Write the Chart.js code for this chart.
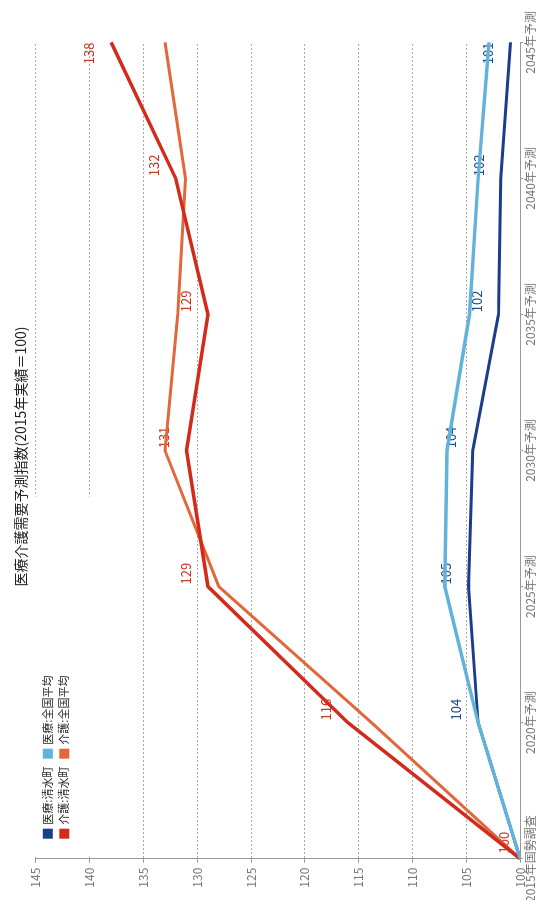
<!DOCTYPE html>
<html lang="ja">
<head>
<meta charset="utf-8">
<title>医療介護需要予測指数</title>
<script src="https://cdn.jsdelivr.net/npm/chart.js@4.4.1/dist/chart.umd.min.js"></script>
<style>
html, body { margin: 0; padding: 0; background: #fff; }
body { width: 541px; height: 900px; overflow: hidden; position: relative; }
/* the printed chart is turned a quarter turn to the left; the first year label runs off the page */
#frame { position: absolute; left: 0; top: 0; width: 891px; height: 541px;
	transform-origin: 0 0; transform: translate(0, 902px) rotate(-90deg); }
</style>
</head>
<body>
<div id="frame"><canvas id="chart" width="891" height="541"></canvas></div>
<script>
"use strict"

const years = ["2015年国勢調査", "2020年予測", "2025年予測", "2030年予測", "2035年予測", "2040年予測", "2045年予測"]
const iryoTown = [100, 103.9, 104.8, 104.4, 102.0, 101.8, 100.9]
const iryoNation = [100, 103.9, 107.0, 106.8, 104.7, 103.9, 102.9]
const kaigoTown = [100, 116, 129, 131, 129, 132, 138]
const kaigoNation = [100, 113.8, 128, 133, 131.8, 131.1, 133]
const seriesNames = ["医療:清水町", "医療:全国平均", "介護:清水町", "介護:全国平均"]
const yMin = 100
const yMax = 145
const yStep = 5

const navy = "#1b3d8c"
const sky = "#62b2db"
const red = "#d42a1c"
const orange = "#e2683c"
const family = "'Liberation Sans Narrow', 'Noto Sans CJK JP', sans-serif"

// town values written beside each point (lines go over them)
const pointLabels = {
	id: "pointLabels",
	beforeDatasetsDraw(chart) {
		const ctx = chart.ctx
		ctx.save()
		ctx.font = "13px " + family
		ctx.textAlign = "center"
		ctx.textBaseline = "middle"
		;[[0, "#1d4a8a", 1], [2, "#c8331f", 0]].forEach(([di, color, from]) => {
			const meta = chart.getDatasetMeta(di)
			const values = chart.data.datasets[di].data
			ctx.fillStyle = color
			meta.data.forEach((pt, i) => {
				if (i < from) return
				let dx = 13
				let dy = -22
				if (i === 0) { dx = 16; dy = -16 }
				if (i === values.length - 1) dx = -11
				ctx.fillText(String(Math.round(values[i])), pt.x + dx, pt.y + dy)
			})
		})
		ctx.restore()
	},
}

// legend in two rows, on a white patch over the top grid lines
const legendBox = {
	id: "legendBox",
	beforeDatasetsDraw(chart) {
		const { ctx, chartArea } = chart
		ctx.save()
		ctx.fillStyle = "#fff"
		ctx.fillRect(chartArea.left + 2, chartArea.top - 3, 360, 58)
		ctx.font = "11px " + family
		ctx.textBaseline = "middle"
		chart.data.datasets.forEach((ds, i) => {
			const col = i % 2
			const row = Math.floor(i / 2)
			const x = chartArea.left + 20 + col * 80
			const y = chartArea.top + 12 + row * 16.5
			ctx.fillStyle = ds.borderColor
			ctx.fillRect(x, y - 5, 10, 10)
			ctx.fillStyle = "#222"
			ctx.fillText(ds.label, x + 14, y)
		})
		ctx.restore()
	},
}

const chart = new Chart(document.getElementById("chart"), {
	type: "line",
	data: {
		labels: years,
		datasets: [
			{ label: seriesNames[0], data: iryoTown, borderColor: navy, backgroundColor: navy, borderWidth: 3, order: 2 },
			{ label: seriesNames[1], data: iryoNation, borderColor: sky, backgroundColor: sky, borderWidth: 3.5, order: 1 },
			{ label: seriesNames[2], data: kaigoTown, borderColor: red, backgroundColor: red, borderWidth: 3.5, order: 3 },
			{ label: seriesNames[3], data: kaigoNation, borderColor: orange, backgroundColor: orange, borderWidth: 3, order: 4 },
		],
	},
	options: {
		responsive: false,
		animation: false,
		elements: {
			point: { radius: 0 },
			line: { tension: 0 },
		},
		layout: { padding: { left: 0, right: 0, top: 0, bottom: 3.5 } },
		plugins: {
			legend: { display: false },
			tooltip: { enabled: false },
			title: {
				display: true,
				text: "医療介護需要予測指数(2015年実績＝100)",
				color: "#222",
				font: { size: 14, family: family, weight: "normal" },
				padding: { top: 12, bottom: 7 },
			},
		},
		scales: {
			x: {
				grid: { drawOnChartArea: false, tickLength: 3, tickColor: "#999" },
				border: { color: "#999" },
				ticks: { color: "#777", font: { size: 12, family: family }, padding: 0, maxRotation: 0, autoSkip: false },
			},
			y: {
				min: yMin,
				max: yMax,
				grid: { color: "#aaa", tickLength: 4, tickColor: "#999" },
				border: { color: "#999", dash: [2, 2] },
				ticks: { stepSize: yStep, color: "#777", font: { size: 12, family: family }, padding: 5 },
			},
		},
	},
	plugins: [legendBox, pointLabels],
})
</script>
</body>
</html>
